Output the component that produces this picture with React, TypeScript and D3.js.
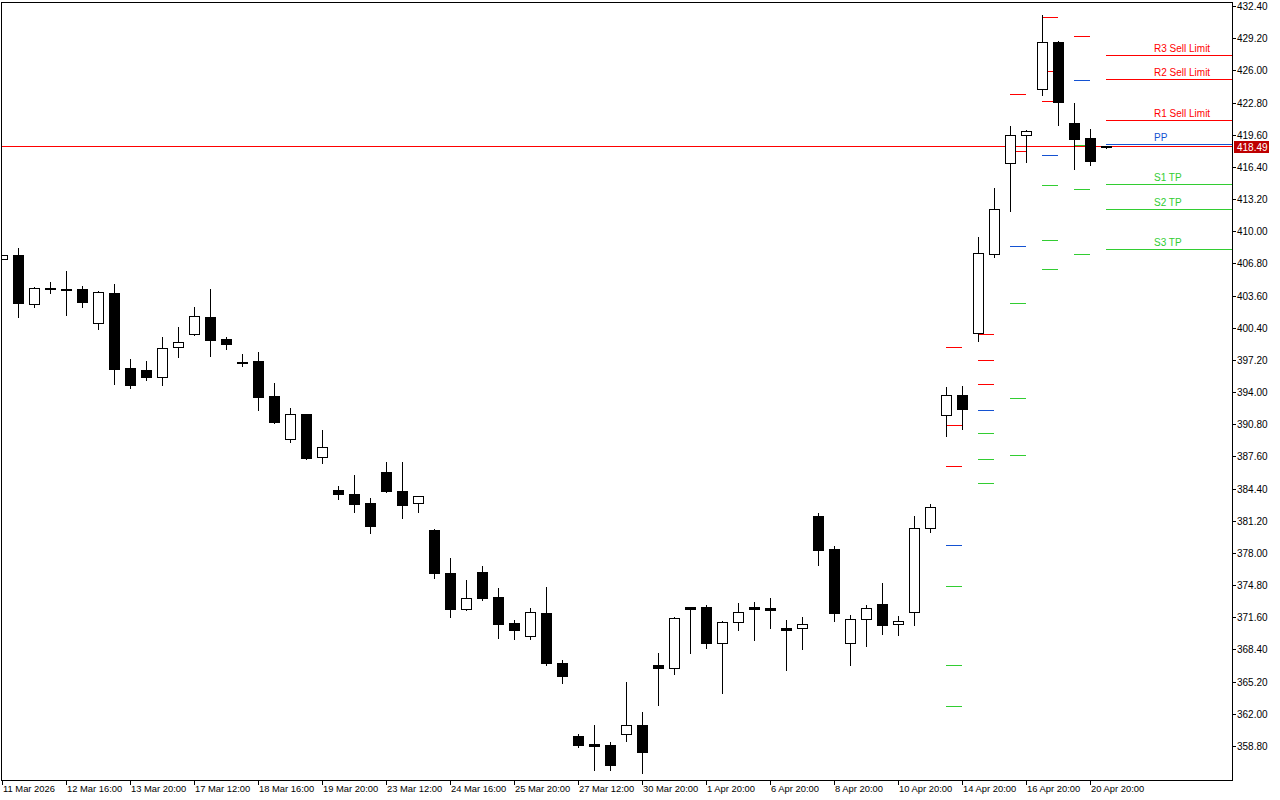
import React from "react";
import * as d3 from "d3";

// ---- Candle data (bar index 0..69) ----
const opens = [
  407.21, 407.63, 402.73, 404.30, 404.28, 404.25, 400.84, 403.85, 396.39, 396.20,
  395.47, 398.45, 399.75, 401.47, 399.28, 397.04, 397.09, 393.61, 389.30, 391.82,
  387.51, 384.26, 383.86, 382.97, 386.05, 384.16, 382.94, 380.28, 375.97, 372.45,
  376.07, 373.59, 371.00, 369.71, 372.03, 367.02, 359.76, 359.00, 358.87, 359.96,
  360.89, 366.82, 366.52, 372.60, 372.58, 369.01, 371.10, 372.62, 372.52, 370.53,
  370.50, 381.67, 378.39, 369.01, 371.40, 372.89, 370.90, 372.10, 380.45, 391.69,
  393.68, 399.85, 407.77, 416.75, 419.54, 424.11, 428.79, 420.73, 419.27, 418.49,
];
const highs = [
  407.63, 408.33, 404.48, 404.95, 406.04, 404.55, 404.05, 404.75, 397.29, 397.09,
  399.48, 400.47, 402.46, 404.25, 399.45, 397.79, 397.99, 394.87, 392.42, 391.82,
  390.23, 384.66, 385.75, 383.46, 387.04, 387.04, 383.63, 380.38, 377.47, 375.28,
  376.70, 374.48, 371.30, 372.49, 374.61, 367.32, 359.96, 360.89, 359.16, 365.16,
  362.18, 368.02, 371.60, 372.67, 372.80, 371.20, 373.02, 373.12, 373.52, 371.33,
  371.63, 381.97, 378.69, 371.83, 372.82, 375.01, 371.73, 381.67, 382.87, 394.47,
  394.57, 409.41, 414.31, 420.46, 420.07, 431.50, 428.89, 422.72, 420.17, 418.49,
];
const lows = [
  407.21, 401.50, 402.49, 403.82, 401.70, 402.49, 400.30, 394.83, 394.44, 395.20,
  394.73, 397.52, 399.70, 397.62, 398.31, 396.62, 392.25, 390.95, 389.06, 387.37,
  386.98, 383.39, 382.10, 380.01, 384.06, 381.50, 382.10, 375.54, 371.66, 372.32,
  373.32, 369.57, 369.47, 369.47, 366.88, 365.09, 358.73, 356.41, 356.41, 359.32,
  356.14, 362.91, 366.01, 368.08, 368.57, 364.04, 370.36, 369.37, 370.56, 366.39,
  368.47, 376.83, 371.26, 366.88, 368.77, 369.97, 369.87, 370.86, 380.05, 389.66,
  390.30, 399.11, 407.43, 412.04, 416.91, 423.58, 420.59, 416.22, 416.62, 418.30,
];
const closes = [
  407.63, 402.83, 404.32, 404.34, 404.18, 402.99, 403.95, 396.33, 394.73, 395.53,
  398.35, 398.95, 401.54, 399.21, 398.81, 397.00, 393.54, 391.05, 391.79, 387.47,
  388.51, 383.89, 382.90, 380.71, 384.16, 382.80, 383.63, 375.97, 372.45, 373.49,
  373.55, 370.96, 370.36, 372.10, 367.08, 365.79, 358.93, 358.83, 356.94, 360.86,
  358.23, 366.59, 371.50, 372.45, 369.07, 371.10, 372.10, 372.45, 372.35, 370.36,
  370.90, 378.32, 372.06, 371.40, 372.49, 370.86, 371.20, 380.45, 382.57, 393.68,
  392.35, 407.81, 412.18, 419.54, 419.94, 428.79, 422.88, 419.20, 417.01, 418.49,
];

// ---- Time axis labels (one every 4 bars) ----
const xTickLabels = [
  "11 Mar 2026", "12 Mar 16:00", "13 Mar 20:00", "17 Mar 12:00", "18 Mar 16:00",
  "19 Mar 20:00", "23 Mar 12:00", "24 Mar 16:00", "25 Mar 20:00", "27 Mar 12:00",
  "30 Mar 20:00", "1 Apr 20:00", "6 Apr 20:00", "8 Apr 20:00", "10 Apr 20:00",
  "14 Apr 20:00", "16 Apr 20:00", "20 Apr 20:00",
];
const xTickBars = [0, 4, 8, 12, 16, 20, 24, 28, 32, 36, 40, 44, 48, 52, 56, 60, 64, 68];

// ---- Price axis tick labels ----
const yTickLabels = [
  "432.40", "429.20", "426.00", "422.80", "419.60", "416.40", "413.20", "410.00",
  "406.80", "403.60", "400.40", "397.20", "394.00", "390.80", "387.60", "384.40",
  "381.20", "378.00", "374.80", "371.60", "368.40", "365.20", "362.00", "358.80",
];

// ---- Daily pivot marks (drawn from bar to next bar) ----
const pivotBars = [59, 61, 63, 65, 67];
const pivotR3 = [398.47, 399.75, null, 431.28, null];
const pivotR2 = [390.68, 397.15, 423.62, 425.90, null];
const pivotR1 = [386.61, 394.77, 417.95, 422.95, 429.39];
const pivotPP = [378.75, 392.18, 408.49, 417.55, 425.01];
const pivotS1 = [374.67, 389.91, 402.84, 414.57, 418.54];
const pivotS2 = [366.81, 387.31, 393.39, 409.10, 414.17];
const pivotS3 = [362.74, 384.94, 387.70, 406.21, 407.70];

// ---- Current levels (right side) ----
const levelNames = ["R3 Sell Limit", "R2 Sell Limit", "R1 Sell Limit", "PP", "S1 TP", "S2 TP", "S3 TP"];
const levelValues = [427.53, 425.11, 421.06, 418.64, 414.67, 412.18, 408.20];
const levelKinds = ["r", "r", "r", "p", "s", "s", "s"];

const currentPrice = 418.49;

const RED = "#FF0000";
const BLUE = "#1452D2";
const GREEN = "#32CD32";
const kindColor: Record<string, string> = { r: RED, p: BLUE, s: GREEN };

export default function App() {
  const W = 1280;
  const Hh = 800;
  const plotLeft = 1;
  const plotRight = 1232;
  const plotTop = 2;
  const plotBottom = 780;
  const lastBar = opens.length - 1;

  const x = d3.scaleLinear().domain([0, lastBar]).range([2, 1106]);
  const y = d3.scaleLinear().domain([358.8, 432.4]).range([746, 6]);
  const px = (v: number) => Math.round(x(v));
  const py = (v: number) => Math.round(y(v));

  const font = "'Liberation Sans', Arial, sans-serif";

  const pivotSets: { vals: (number | null)[]; kind: string }[] = [
    { vals: pivotR3, kind: "r" },
    { vals: pivotR2, kind: "r" },
    { vals: pivotR1, kind: "r" },
    { vals: pivotPP, kind: "p" },
    { vals: pivotS1, kind: "s" },
    { vals: pivotS2, kind: "s" },
    { vals: pivotS3, kind: "s" },
  ];

  return (
    <svg
      width={W}
      height={Hh}
      style={{ position: "absolute", left: 0, top: 0, background: "#fff", display: "block" }}
    >
      <defs>
        <clipPath id="plot">
          <rect x={plotLeft + 1} y={plotTop + 1} width={plotRight - plotLeft - 1} height={plotBottom - plotTop - 1} />
        </clipPath>
      </defs>
      <rect x={0} y={0} width={W} height={Hh} fill="#fff" />

      <g clipPath="url(#plot)" shapeRendering="crispEdges">
        {/* current price line */}
        <line x1={plotLeft} x2={plotRight} y1={py(currentPrice) + 0.5} y2={py(currentPrice) + 0.5} stroke={RED} strokeWidth={1} />

        {/* pivot marks */}
        {pivotSets.map((set, si) =>
          set.vals.map((v, i) =>
            v == null ? null : (
              <line
                key={`pv-${si}-${i}`}
                x1={px(pivotBars[i])}
                x2={px(pivotBars[i] + 1)}
                y1={py(v) + 0.5}
                y2={py(v) + 0.5}
                stroke={kindColor[set.kind]}
                strokeWidth={1}
              />
            )
          )
        )}

        {/* candles */}
        {opens.map((o, i) => {
          const c = closes[i];
          const cx = px(i);
          const yh = py(highs[i]);
          const yl = py(lows[i]);
          const top = py(Math.max(o, c));
          const bot = py(Math.min(o, c));
          const bull = c >= o;
          const h = Math.max(1, bot - top);
          return (
            <g key={`c-${i}`}>
              <line x1={cx + 0.5} x2={cx + 0.5} y1={yh} y2={yl + 1} stroke="#000" strokeWidth={1} />
              <rect
                x={cx - 4.5}
                y={top + 0.5}
                width={10}
                height={h}
                fill={bull ? "#fff" : "#000"}
                stroke="#000"
                strokeWidth={1}
              />
            </g>
          );
        })}

        {/* current level lines */}
        {levelValues.map((v, i) => (
          <line
            key={`lv-${i}`}
            x1={px(lastBar)}
            x2={plotRight}
            y1={py(v) + 0.5}
            y2={py(v) + 0.5}
            stroke={kindColor[levelKinds[i]]}
            strokeWidth={1}
          />
        ))}
      </g>

      {/* level labels */}
      {levelValues.map((v, i) => (
        <text
          key={`lt-${i}`}
          x={px(lastBar) + 48}
          y={py(v) - 3}
          fill={kindColor[levelKinds[i]]}
          fontFamily={font}
          fontSize={10}
        >
          {levelNames[i]}
        </text>
      ))}

      {/* frame */}
      <rect
        x={plotLeft + 0.5}
        y={plotTop + 0.5}
        width={plotRight - plotLeft}
        height={plotBottom - plotTop}
        fill="none"
        stroke="#000"
        strokeWidth={1}
        shapeRendering="crispEdges"
      />

      {/* y axis ticks */}
      {yTickLabels.map((t, i) => {
        const yy = py(parseFloat(t));
        return (
          <g key={`yt-${i}`}>
            <line x1={plotRight} x2={plotRight + 4} y1={yy + 0.5} y2={yy + 0.5} stroke="#000" shapeRendering="crispEdges" />
            <text x={plotRight + 5} y={yy + 0.5} dominantBaseline="central" fontFamily={font} fontSize={10} fill="#000">
              {t}
            </text>
          </g>
        );
      })}

      {/* current price tag */}
      <rect x={plotRight + 2} y={py(currentPrice) - 5} width={35} height={12} fill="#BE0000" shapeRendering="crispEdges" />
      <text x={plotRight + 5} y={py(currentPrice) + 1} dominantBaseline="central" fontFamily={font} fontSize={10} fill="#fff">
        {currentPrice.toFixed(2)}
      </text>

      {/* x axis ticks */}
      {xTickLabels.map((t, i) => {
        const xx = px(xTickBars[i]);
        return (
          <g key={`xt-${i}`}>
            <line x1={xx + 0.5} x2={xx + 0.5} y1={plotBottom} y2={plotBottom + 5} stroke="#000" shapeRendering="crispEdges" />
            <text x={xx + 1} y={plotBottom + 12} fontFamily={font} fontSize={9.4} fill="#000">
              {t}
            </text>
          </g>
        );
      })}
    </svg>
  );
}
